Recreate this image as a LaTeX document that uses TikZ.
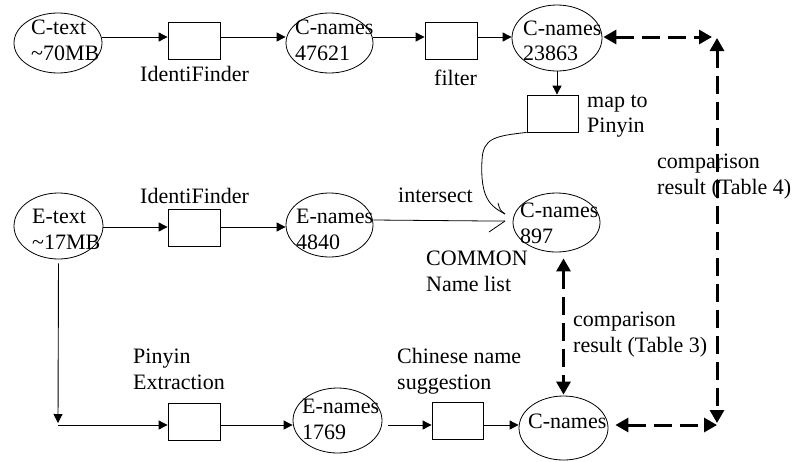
\documentclass[tikz,border=0pt]{standalone}
\usepackage{fontspec}
\setmainfont{Liberation Serif}
\usetikzlibrary{arrows.meta,shapes.geometric}
\begin{document}
\begin{tikzpicture}[x=1pt,y=-1pt,
  ell/.style={draw,ellipse,inner sep=0pt,line width=0.8pt},
  proc/.style={draw,rectangle,inner sep=0pt,minimum width=52pt,minimum height=37pt,line width=0.8pt},
  lbl/.style={inner sep=0pt,anchor=base west,align=left,font=\fontsize{22}{25.5}\selectfont},
  flow/.style={line width=0.9pt,-{Triangle[length=9pt,width=9pt]}},
  hand/.style={line width=0.8pt},
  cmp/.style={line width=3pt,dash pattern=on 18pt off 8pt,{Triangle[length=13pt,width=14pt]}-{Triangle[length=13pt,width=14pt]}},
]
\useasboundingbox (0,0) rectangle (799,461);

% ellipses
\node[ell,minimum width=88pt,minimum height=60pt] (ct) at (58,43) {};
\node[ell,minimum width=87pt,minimum height=60pt] (cn1) at (329.5,43) {};
\node[ell,minimum width=90pt,minimum height=66pt] (cn2) at (557,38) {};
\node[ell,minimum width=87pt,minimum height=59pt] (cn3) at (556.5,222.5) {};
\node[ell,minimum width=89pt,minimum height=66pt] (et) at (58.5,226) {};
\node[ell,minimum width=87pt,minimum height=64pt] (en1) at (329.5,225) {};
\node[ell,minimum width=89pt,minimum height=65pt] (en2) at (337.5,420.5) {};
\node[ell,minimum width=89pt,minimum height=64pt] (cn4) at (563.5,428) {};

% process boxes
\node[proc] (b1) at (194,40.5) {};
\node[proc] (b2) at (451,40.5) {};
\node[proc,minimum width=51pt] (b3) at (552.5,113.5) {};
\node[proc] (b4) at (194,227.5) {};
\node[proc] (b5) at (194,421.5) {};
\node[proc,minimum width=51pt] (b6) at (457.5,421) {};

% labels (base = baseline of last line)
\node[lbl] (lct) at (31,60) {C-text\\\textasciitilde70MB};
\node[lbl] (lcn1) at (295,60) {C-names\\47621};
\node[lbl] (lid1) at (140,81) {IdentiFinder};
\node[lbl] (lfil) at (434,85) {filter};
\node[lbl] (lcn2) at (523,60.5) {C-names\\23863};
\node[lbl] (lmap) at (587,132.5) {map to\\Pinyin};
\node[lbl] (lint) at (398,202) {intersect};
\node[lbl] (lcn3) at (520,243) {C-names\\897};
\node[lbl] (lid2) at (140,203) {IdentiFinder};
\node[lbl] (let) at (32,249) {E-text\\\textasciitilde17MB};
\node[lbl] (len1) at (296,249) {E-names\\4840};
\node[lbl] (lcom) at (426,291) {COMMON\\Name list};
\node[lbl] (lt3) at (573,352) {comparison\\result (Table 3)};
\node[lbl] (lpe) at (133,389) {Pinyin\\Extraction};
\node[lbl] (len2) at (302,439) {E-names\\1769};
\node[lbl] (lcns) at (397,389) {Chinese name\\suggestion};
\node[lbl] (lcn4) at (528,428) {C-names};
\node[lbl] (lt4) at (657,194) {comparison\\result (Table 4)};

% helper coordinates
\coordinate (r1) at (0,37);
\coordinate (r2) at (0,227);
\coordinate (r2b) at (0,220);
\coordinate (r3) at (0,425);
\coordinate (corner) at (58,425);
\coordinate (tr) at (717,37);
\coordinate (br) at (717,425);
\coordinate (m1) at (505,214);
\coordinate (m2) at (505,221);
\coordinate (bar1) at (498,203);
\coordinate (bar2) at (489,232);

% flow arrows
\draw[flow] (ct.east |- r1) -- (b1.west |- r1);
\draw[flow] (b1.east |- r1) -- (cn1.west |- r1);
\draw[flow] (cn1.east |- r1) -- (b2.west |- r1);
\draw[flow] (b2.east |- r1) -- (cn2.west |- r1);
\draw[flow] (cn2.south) -- (b3.north -| cn2.south);
\draw[flow] (et.east |- r2) -- (b4.west |- r2);
\draw[flow] (b4.east |- r2) -- (en1.west |- r2);
\draw[flow] ([yshift=-4pt]et.south) -- ([yshift=2pt]corner);
\draw[flow] (corner) -- (b5.west |- r3);
\draw[flow] (b5.east |- r3) -- (en2.west |- r3);
\draw[flow] ([xshift=6pt]en2.east |- r3) -- (b6.west |- r3);
\draw[flow] (b6.east |- r3) -- (cn4.west |- r3);

% intersect hand-drawn curves
\draw[hand] (b3.south west) .. controls (495,136) and (483,138) .. (482,160)
  .. controls (480,198) and (490,206) .. (m1);
\draw[hand] (bar1) .. controls (500,210) .. (m1);
\draw[hand] (en1.east |- r2b) -- (490,221) .. controls (498,221) .. (m2);
\draw[hand] (bar2) .. controls (497,226) .. (m2);

% comparison arrows
\draw[cmp] ([xshift=1pt]cn2.east |- r1) -- ([xshift=-5pt]tr);
\draw[cmp] ([yshift=-1pt]tr) -- ([yshift=2pt]br);
\draw[cmp] ([xshift=7pt]cn4.east |- br) -- (br);
\draw[cmp] ([yshift=-6pt]cn3.south -| cn4.north) -- ([yshift=1pt]cn4.north);
\end{tikzpicture}
\end{document}
